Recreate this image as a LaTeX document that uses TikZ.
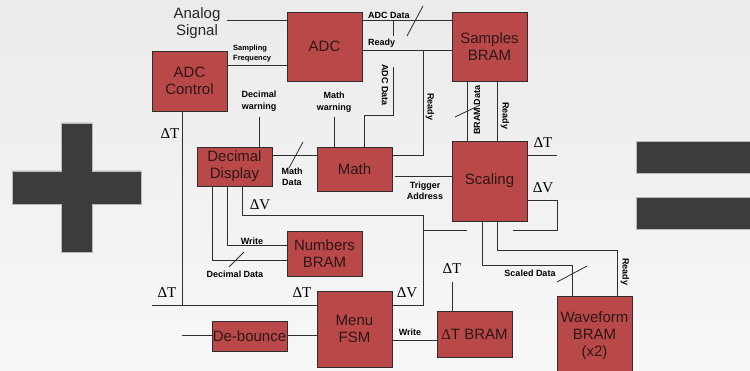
\documentclass[tikz,border=0pt]{standalone}
\usepackage{fontspec}
\setmainfont{Liberation Sans}
\newfontfamily\deltafont{Liberation Serif}
\usetikzlibrary{positioning}
\definecolor{blockred}{HTML}{B94949}
\definecolor{blocktext}{HTML}{2E1616}
\definecolor{wiregray}{HTML}{2E2E2E}
\definecolor{signgray}{HTML}{3C3C3C}

\begin{document}
\begin{tikzpicture}[x=1pt, y=-1pt,
  blk/.style={draw=wiregray, line width=0.9pt, fill=blockred, text=blocktext,
              inner sep=0pt, minimum width=75pt, align=center,
              font=\fontsize{15}{17}\selectfont},
  lbl/.style={inner sep=0pt, align=center, font=\bfseries\fontsize{9}{11.5}\selectfont},
  tinylbl/.style={inner sep=0pt, align=left, font=\bfseries\fontsize{7.5}{10}\selectfont},
  delta/.style={inner sep=0pt, font=\deltafont\fontsize{15}{15}\selectfont},
  wire/.style={draw=wiregray, line width=1pt},
  tick/.style={draw=wiregray, line width=0.8pt},
  sign/.style={fill=signgray, draw=gray!55, line width=0.8pt}
]
  \useasboundingbox (0,0) rectangle (750,371);
  \clip (0,0) rectangle (750,371);
  \shade[top color=black!8, bottom color=black!3] (0,0) rectangle (750,371);

  \fill[sign] (61,123) -- (92,123) -- (92,171) -- (141,171) -- (141,204) -- (92,204)
    -- (92,252) -- (61,252) -- (61,204) -- (12,204) -- (12,171) -- (61,171) -- cycle;
  \fill[sign] (636,141) rectangle (755,173);
  \fill[sign] (636,197) rectangle (755,229);

  \node[blk, minimum height=69pt] (adc) at (324.5,46.5) {ADC};
  \node[blk, minimum height=69pt] (samples) at (489.5,46.5) {Samples\\BRAM};
  \node[blk, minimum height=60pt] (adcctl) at (189.5,81) {ADC\\Control};
  \node[blk, minimum height=39pt] (decdisp) at (234.5,166.5) {Decimal\\Display};
  \node[blk, minimum height=44pt] (math) at (354.5,169) {Math};
  \node[blk, minimum height=80pt] (scaling) at (489.5,181) {Scaling};
  \node[blk, minimum height=45pt] (numbers) at (324.5,253.5) {Numbers\\BRAM};
  \node[blk, minimum height=76pt] (menu) at (354.5,329) {Menu\\FSM};
  \node[blk, minimum height=30pt] (debounce) at (249.5,336) {De-bounce};
  \node[blk, minimum height=46pt] (dtbram) at (474.5,334) {{\deltafont Δ}T BRAM};
  \node[blk, minimum height=79pt] (wave) at (594.5,335.5) {Waveform\\BRAM\\(x2)};

  \node[inner sep=0pt, align=center, text=black!85, font=\fontsize{15}{17}\selectfont]
    (analog) at (197,23) {Analog\\Signal};

  \coordinate (ain) at (227,21);
  \coordinate (sf) at (227,66);
  \coordinate (adcd) at (362,21);
  \coordinate (rdy) at (362,51);
  \coordinate (tapa) at (393,21);
  \coordinate (tapb) at (393,36);
  \coordinate (tapc) at (393,67);
  \coordinate (mathin) at (364,116);
  \coordinate (rdytap) at (423,51);
  \coordinate (mathrdy) at (392,156);
  \coordinate (bd) at (467,81);
  \coordinate (sr) at (497,81);
  \coordinate (dtout) at (557,156);
  \coordinate (dvout) at (557,201);
  \coordinate (dvend) at (513,231);
  \coordinate (trig) at (395,177);
  \coordinate (sd) at (482,266);
  \coordinate (sdw) at (572,266);
  \coordinate (wr) at (497,251);
  \coordinate (wrw) at (617,251);
  \coordinate (md) at (272,156);
  \coordinate (dw) at (259,117);
  \coordinate (mw) at (334,117);
  \coordinate (dva) at (242,216);
  \coordinate (dvb) at (423,216);
  \coordinate (dvc) at (423,306);
  \coordinate (dvd) at (423,231);
  \coordinate (dve) at (467,231);
  \coordinate (dta) at (182,306);
  \coordinate (dtl) at (152,306);
  \coordinate (wra) at (227,246);
  \coordinate (dda) at (212,261);
  \coordinate (btn) at (182,336);
  \coordinate (wdt) at (392,341);
  \coordinate (dtin) at (452,282);

  \draw[wire] (ain) -- (ain -| adc.west);
  \draw[wire] (sf) -- (sf -| adc.west);
  \draw[wire] (adcd) -- (adcd -| samples.west);
  \draw[wire] (rdy) -- (rdy -| samples.west);
  \draw[wire] (tapa) -- (tapb);
  \draw[wire] (tapc) |- (mathin) -- (mathin |- math.north);
  \draw[wire] (rdytap) |- (mathrdy);
  \draw[wire] (bd) -- (bd |- scaling.north);
  \draw[wire] (sr) -- (sr |- scaling.north);
  \draw[wire] (dtout -| scaling.east) -- (dtout);
  \draw[wire] (dvout -| scaling.east) -- (dvout) |- (dvend);
  \draw[wire] (trig) -- (trig -| scaling.west);
  \draw[wire] (sd |- scaling.south) -- (sd) -- (sdw) -- (sdw |- wave.north);
  \draw[wire] (wr |- scaling.south) -- (wr) -- (wrw) -- (wrw |- wave.north);
  \draw[wire] (md) -- (md -| math.west);
  \draw[wire] (dw |- decdisp.north) -- (dw);
  \draw[wire] (mw |- math.north) -- (mw);
  \draw[wire] (dva |- decdisp.south) -- (dva) -- (dvb) -- (dvc) -- (dvc -| menu.east);
  \draw[wire] (dvd) -- (dve);
  \draw[wire] (dta |- adcctl.south) -- (dta);
  \draw[wire] (dtl) -- (dtl -| menu.west);
  \draw[wire] (wra |- decdisp.south) -- (wra) -- (wra -| numbers.west);
  \draw[wire] (dda |- decdisp.south) -- (dda) -- (dda -| numbers.west);
  \draw[wire] (btn) -- (debounce.west);
  \draw[wire] (debounce.east) -- (debounce.east -| menu.west);
  \draw[wire] (wdt) -- (wdt -| dtbram.west);
  \draw[wire] (dtin |- dtbram.north) -- (dtin);

  \draw[tick] (407,36) -- (423,6);
  \draw[tick] (455,117) -- (480,105);
  \draw[tick] (557,282) -- (587,266);
  \draw[tick] (289,168) -- (303,142);
  \draw[tick] (229,267) -- (244,252);

  \node[tinylbl, anchor=west] (sflbl) at (233,54) {Sampling\\Frequency};
  \node[lbl, anchor=west] (adcdlbl) at (368,15) {ADC Data};
  \node[lbl, anchor=west] (rdylbl) at (368,43) {Ready};
  \node[lbl, rotate=-90] (adcvlbl) at (385,85) {ADC Data};
  \node[lbl, rotate=-90] (rdyvlbl) at (430,107) {Ready};
  \node[lbl, rotate=90] (bdlbl) at (477,110) {BRAM Data};
  \node[lbl, rotate=-90] (srlbl) at (505,116) {Ready};
  \node[lbl] (dwlbl) at (259,101) {Decimal\\warning};
  \node[lbl] (mwlbl) at (334,102) {Math\\warning};
  \node[lbl] (mdlbl) at (292,177) {Math\\Data};
  \node[lbl] (triglbl) at (425,191) {Trigger\\Address};
  \node[lbl] (wralbl) at (252,241) {Write};
  \node[lbl] (ddlbl) at (235,274) {Decimal Data};
  \node[lbl] (sdlbl) at (530,273) {Scaled Data};
  \node[lbl, rotate=-90] (wrlbl) at (625,272) {Ready};
  \node[lbl] (wdtlbl) at (410,332) {Write};

  \node[delta] (dt1) at (170,134) {ΔT};
  \node[delta] (dv1) at (260,205) {ΔV};
  \node[delta] (dt2) at (167,293) {ΔT};
  \node[delta] (dt3) at (302,293) {ΔT};
  \node[delta] (dv2) at (407,293) {ΔV};
  \node[delta] (dt4) at (452,269) {ΔT};
  \node[delta] (dt5) at (543,143) {ΔT};
  \node[delta] (dv3) at (543,188) {ΔV};
\end{tikzpicture}
\end{document}
